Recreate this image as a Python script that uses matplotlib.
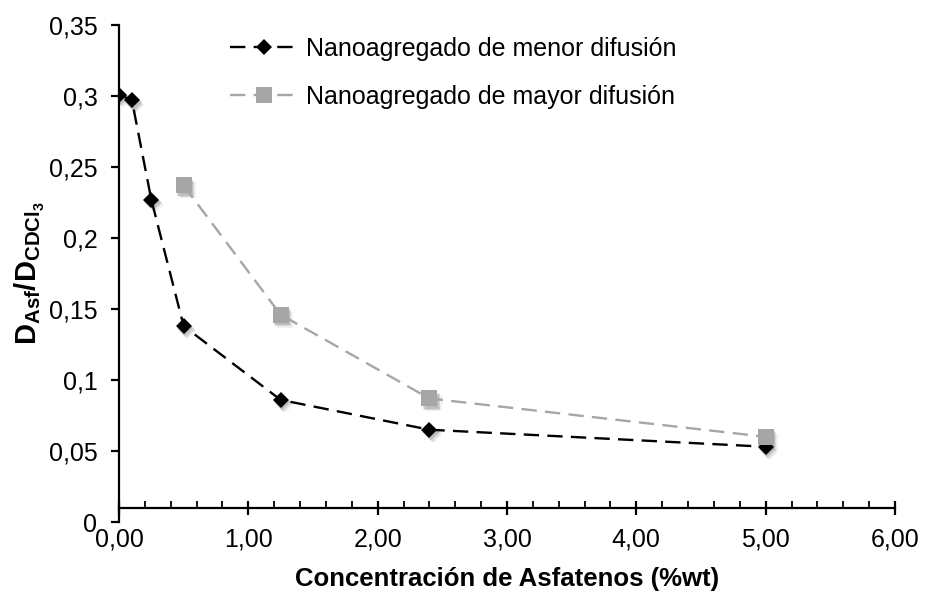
import matplotlib
matplotlib.use("Agg")
import matplotlib.pyplot as plt
import matplotlib.patheffects as pe
from matplotlib.ticker import MultipleLocator, FuncFormatter

plt.rcParams['font.family'] = ['Liberation Sans', 'DejaVu Sans']
plt.rcParams['mathtext.fontset'] = 'custom'
plt.rcParams['mathtext.rm'] = 'Liberation Sans'
plt.rcParams['mathtext.bf'] = 'Liberation Sans:bold'

# concentracion (%wt) y cociente de difusion
conc_menor = [0.0, 0.1, 0.25, 0.5, 1.25, 2.4, 5.0]
dif_menor = [0.301, 0.297, 0.227, 0.138, 0.086, 0.065, 0.053]
conc_mayor = [0.5, 1.25, 2.4, 5.0]
dif_mayor = [0.237, 0.146, 0.087, 0.060]
lbl_menor = 'Nanoagregado de menor difusión'
lbl_mayor = 'Nanoagregado de mayor difusión'

gris = '#a6a6a6'
fs = 18

fig = plt.figure(figsize=(9.31, 5.94), dpi=100)
ax = fig.add_axes([0.1278, 0.1212, 0.8335, 0.8367])

# sombra suave bajo los marcadores
sombra = [pe.SimplePatchShadow(offset=(1, -1.5), alpha=0.12, shadow_rgbFace='k'),
          pe.SimplePatchShadow(offset=(2, -2.5), alpha=0.10, shadow_rgbFace='k'),
          pe.SimplePatchShadow(offset=(3, -3.5), alpha=0.06, shadow_rgbFace='k')]

ax.plot(conc_menor, dif_menor, ls='none', marker='D', ms=8.5, color='k',
        mew=0, path_effects=sombra, zorder=2)
ax.plot(conc_mayor, dif_mayor, ls='none', marker='s', ms=11.5, color=gris,
        mew=0, path_effects=sombra, zorder=2)

ax.plot(conc_menor, dif_menor, ls=(0, (6.5, 3.5)), lw=1.7, color='k',
        marker='D', ms=8.5, mew=0, label=lbl_menor, zorder=3)
ax.plot(conc_mayor, dif_mayor, ls=(0, (6.5, 3.5)), lw=1.7, color=gris,
        marker='s', ms=11.5, mew=0, label=lbl_mayor, zorder=4)

ax.set_xlim(0, 6)
ax.set_ylim(0, 0.35)

for s in ['top', 'right']:
    ax.spines[s].set_visible(False)
ax.spines['bottom'].set_position(('data', 0.01))
ax.spines['left'].set_linewidth(1.6)
ax.spines['bottom'].set_linewidth(1.6)

ax.xaxis.set_major_locator(MultipleLocator(1))
ax.xaxis.set_minor_locator(MultipleLocator(0.2))
ax.yaxis.set_major_locator(MultipleLocator(0.05))
ax.xaxis.set_major_formatter(FuncFormatter(lambda v, p: f"{v:.2f}".replace('.', ',')))
ax.yaxis.set_major_formatter(FuncFormatter(lambda v, p: f"{round(v, 2):g}".replace('.', ',')))

ax.tick_params(axis='x', which='major', direction='inout', length=10, width=1.6,
               labelsize=fs, pad=9)
ax.tick_params(axis='x', which='minor', direction='in', length=5, width=1.3)
ax.tick_params(axis='y', which='major', direction='out', length=6, width=1.6,
               labelsize=fs, pad=9.5)

ax.set_xlabel('Concentración de Asfatenos (%wt)', fontsize=18.5, fontweight='bold',
              labelpad=11)
ax.set_ylabel(r'$\mathbf{D_{Asf}/D_{CDCl_3}}$', fontsize=21, labelpad=1)

ax.legend(loc='upper left', bbox_to_anchor=(230 / 931, 1 - 37 / 594),
          bbox_transform=fig.transFigure, frameon=False, borderpad=0,
          borderaxespad=0, handlelength=2.7, handletextpad=0.32,
          labelspacing=0.95, numpoints=1, fontsize=fs)

fig.savefig('out.png', dpi=100)
